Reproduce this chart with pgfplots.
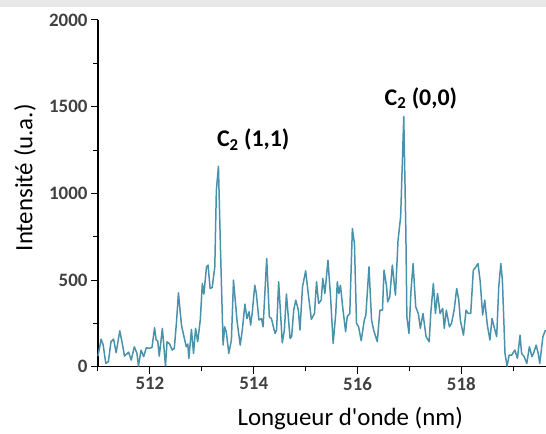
\documentclass[border=0pt]{standalone}
\usepackage{pgfplots}
\pgfplotsset{compat=1.18}
\usepackage{fontspec}
\setmainfont{Carlito}[Ligatures=TeXOff]
\definecolor{specline}{RGB}{74,146,171}
\definecolor{tl}{RGB}{64,64,64}
\pgfplotstableread{
x y
511.00 61
511.06 159
511.10 125
511.15 19
511.20 29
511.25 144
511.30 159
511.35 81
511.42 207
511.48 115
511.51 61
511.59 84
511.64 38
511.70 115
511.75 77
511.78 4
511.83 96
511.88 58
511.93 109
511.99 106
512.04 111
512.09 225
512.12 154
512.15 150
512.18 61
512.24 221
512.30 5
512.33 144
512.38 131
512.43 96
512.47 106
512.51 250
512.55 426
512.58 326
512.61 236
512.65 182
512.70 115
512.73 131
512.75 48
512.80 215
512.84 77
512.88 221
512.92 144
512.97 269
513.01 480
513.04 419
513.09 576
513.12 586
513.16 451
513.20 457
513.25 576
513.28 1018
513.32 1156
513.36 672
513.41 125
513.44 230
513.47 202
513.52 77
513.57 154
513.61 499
513.68 259
513.74 125
513.78 211
513.83 361
513.87 278
513.91 317
513.94 240
513.97 307
514.02 470
514.05 422
514.10 269
514.15 278
514.18 230
514.25 624
514.30 288
514.34 278
514.41 192
514.44 211
514.48 490
514.55 138
514.59 211
514.63 419
514.70 163
514.73 173
514.77 326
514.81 384
514.86 326
514.89 211
514.94 461
515.00 553
515.05 422
515.11 273
515.17 307
515.21 490
515.25 365
515.30 384
515.33 509
515.37 422
515.43 614
515.48 403
515.53 134
515.58 307
515.61 490
515.64 422
515.67 470
515.72 326
515.77 202
515.80 288
515.85 307
515.90 797
515.94 710
515.98 250
516.02 230
516.07 150
516.13 269
516.16 298
516.22 576
516.27 269
516.31 211
516.38 144
516.43 326
516.48 326
516.51 557
516.56 461
516.58 374
516.62 403
516.67 586
516.73 413
516.78 730
516.83 864
516.89 1442
516.93 787
516.95 288
516.99 192
517.03 442
517.07 595
517.12 346
517.17 307
517.21 221
517.26 307
517.32 173
517.38 144
517.41 307
517.46 480
517.50 307
517.54 422
517.59 307
517.64 336
517.67 221
517.71 326
517.77 230
517.81 250
517.86 326
517.91 451
517.95 384
517.98 269
518.04 182
518.09 326
518.13 307
518.18 307
518.23 557
518.28 576
518.32 595
518.36 499
518.41 298
518.45 384
518.50 240
518.55 154
518.59 278
518.63 230
518.68 173
518.72 461
518.76 595
518.79 499
518.84 77
518.88 3
518.92 67
518.97 67
519.03 96
519.08 48
519.13 182
519.16 77
519.21 58
519.26 19
519.31 115
519.36 58
519.39 77
519.44 125
519.48 77
519.51 19
519.57 173
519.62 211
}\spectrum
\begin{document}
\begin{tikzpicture}
\path[use as bounding box] (-98bp,-67.3bp) rectangle (448bp,366.7bp);
\fill[black!9] (-98bp,359.7bp) rectangle (448bp,366.7bp);
\begin{axis}[
 scale only axis, width=448bp, height=346.7bp,
 at={(0,0)}, anchor=south west,
 xmin=511, xmax=519.63, ymin=0, ymax=2000,
 axis x line*=bottom, axis y line*=left,
 axis line style={black, line width=1.2bp, -},
 xtick={512,514,516,518}, minor xtick={511,513,515,517,519},
 ytick={0,500,1000,1500,2000}, minor ytick={250,750,1250,1750},
 tick align=outside, major tick length=7bp, minor tick length=4.5bp,
 tick style={black, line width=1bp},
 ticklabel style={font=\fontsize{19}{19}\selectfont\bfseries, text=tl},
 /pgf/number format/assume math mode=true,
 /pgf/number format/1000 sep={},
 xlabel={Longueur d'onde (nm)}, ylabel={Intensité (u.a.)},
 label style={font=\fontsize{25}{25}\selectfont},
 xlabel style={at={(axis description cs:0.563,0)}, anchor=center, yshift=-52bp},
 ylabel style={at={(axis description cs:-0.163,0.545)}, anchor=center},
 clip=false,
]
\addplot[specline, line width=1.5bp, line join=round] table[x=x,y=y] {\spectrum};
\node[font=\fontsize{24}{24}\selectfont\bfseries] at (axis cs:513.99,1308) {C\textsubscript{2} (1,1)};
\node[font=\fontsize{24}{24}\selectfont\bfseries] at (axis cs:517.22,1550) {C\textsubscript{2} (0,0)};
\end{axis}
\end{tikzpicture}
\end{document}
